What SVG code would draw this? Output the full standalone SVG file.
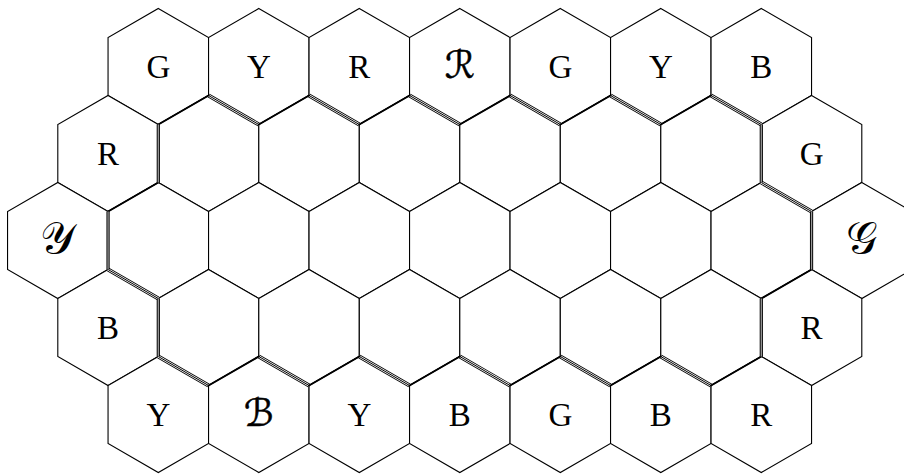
<svg xmlns="http://www.w3.org/2000/svg" xmlns:xlink="http://www.w3.org/1999/xlink" width="904" height="474" viewBox="0 0 904 474">
<style>
.hx{fill:#fff;stroke:#000;stroke-width:1.1;stroke-linejoin:miter}
.lb{font-family:"Liberation Serif","DejaVu Serif",serif;font-size:33px;text-anchor:middle;fill:#000}
.sc{font-family:"DejaVu Sans","DejaVu Serif",serif;font-size:38px;text-anchor:middle;fill:#000;stroke:#000;stroke-width:0.5}
.sm{font-family:"DejaVu Sans","DejaVu Serif",serif;font-size:44px;text-anchor:middle;fill:#000}
.t1{fill:none;stroke:#000;stroke-width:4;stroke-linecap:butt}
.t2{fill:none;stroke:#fff;stroke-width:2.4;stroke-linecap:butt}
.t3{fill:none;stroke:#000;stroke-width:1;stroke-linecap:butt}
.tk{fill:none;stroke:#000;stroke-width:2;stroke-linecap:round}
.v1{fill:none;stroke:#000;stroke-width:3.2;stroke-linecap:butt}
.v2{fill:none;stroke:#999;stroke-width:1.3;stroke-linecap:butt}
</style>
<defs>
<path id="h" d="M0,-58 L50.25,-29 L50.25,29 L0,58 L-50.25,29 L-50.25,-29 Z"/>
<path id="tri" d="M208.55,95.5 L258.8,124.5 M309.05,95.5 L359.3,124.5 M409.55,95.5 L459.8,124.5 M510.05,95.5 L560.3,124.5 M610.55,95.5 L660.8,124.5 M711.05,95.5 L761.3,124.5 M761.3,182.5 L811.55,211.5 M108.05,269.5 L158.3,298.5 M158.3,356.5 L208.55,385.5 M258.8,356.5 L309.05,385.5 M359.3,356.5 L409.55,385.5 M459.8,356.5 L510.05,385.5 M560.3,356.5 L610.55,385.5 M660.8,356.5 L711.05,385.5"/>
<path id="ver" d="M158.3,124.5 L158.3,182.5 M108.05,211.5 L108.05,269.5 M158.3,298.5 L158.3,356.5 M761.3,124.5 L761.3,182.5 M811.55,211.5 L811.55,269.5 M761.3,298.5 L761.3,356.5"/>
</defs>
<rect width="904" height="474" fill="#fff"/>
<g id="hexes">
<g id="r0c0"><use xlink:href="#h" href="#h" x="158.3" y="66.5" class="hx"/><text class="lb" x="158.3" y="78">G</text></g>
<g id="r0c1"><use xlink:href="#h" href="#h" x="258.8" y="66.5" class="hx"/><text class="lb" x="258.8" y="78">Y</text></g>
<g id="r0c2"><use xlink:href="#h" href="#h" x="359.3" y="66.5" class="hx"/><text class="lb" x="359.3" y="78">R</text></g>
<g id="r0c3"><use xlink:href="#h" href="#h" x="459.8" y="66.5" class="hx"/><text class="sc" x="459.8" y="78">ℛ</text></g>
<g id="r0c4"><use xlink:href="#h" href="#h" x="560.3" y="66.5" class="hx"/><text class="lb" x="560.3" y="78">G</text></g>
<g id="r0c5"><use xlink:href="#h" href="#h" x="660.8" y="66.5" class="hx"/><text class="lb" x="660.8" y="78">Y</text></g>
<g id="r0c6"><use xlink:href="#h" href="#h" x="761.3" y="66.5" class="hx"/><text class="lb" x="761.3" y="78">B</text></g>

<g id="r1c0"><use xlink:href="#h" href="#h" x="108.05" y="153.5" class="hx"/><text class="lb" x="108.05" y="165">R</text></g>
<g id="r1c1"><use xlink:href="#h" href="#h" x="208.55" y="153.5" class="hx"/></g>
<g id="r1c2"><use xlink:href="#h" href="#h" x="309.05" y="153.5" class="hx"/></g>
<g id="r1c3"><use xlink:href="#h" href="#h" x="409.55" y="153.5" class="hx"/></g>
<g id="r1c4"><use xlink:href="#h" href="#h" x="510.05" y="153.5" class="hx"/></g>
<g id="r1c5"><use xlink:href="#h" href="#h" x="610.55" y="153.5" class="hx"/></g>
<g id="r1c6"><use xlink:href="#h" href="#h" x="711.05" y="153.5" class="hx"/></g>
<g id="r1c7"><use xlink:href="#h" href="#h" x="811.55" y="153.5" class="hx"/><text class="lb" x="811.55" y="165">G</text></g>

<g id="r2c0"><use xlink:href="#h" href="#h" x="57.8" y="240.5" class="hx"/><text class="sm" x="57.8" y="253">𝒴</text></g>
<g id="r2c1"><use xlink:href="#h" href="#h" x="158.3" y="240.5" class="hx"/></g>
<g id="r2c2"><use xlink:href="#h" href="#h" x="258.8" y="240.5" class="hx"/></g>
<g id="r2c3"><use xlink:href="#h" href="#h" x="359.3" y="240.5" class="hx"/></g>
<g id="r2c4"><use xlink:href="#h" href="#h" x="459.8" y="240.5" class="hx"/></g>
<g id="r2c5"><use xlink:href="#h" href="#h" x="560.3" y="240.5" class="hx"/></g>
<g id="r2c6"><use xlink:href="#h" href="#h" x="660.8" y="240.5" class="hx"/></g>
<g id="r2c7"><use xlink:href="#h" href="#h" x="761.3" y="240.5" class="hx"/></g>
<g id="r2c8"><use xlink:href="#h" href="#h" x="861.8" y="240.5" class="hx"/><text class="sm" x="861.8" y="253">𝒢</text></g>

<g id="r3c0"><use xlink:href="#h" href="#h" x="108.05" y="327.5" class="hx"/><text class="lb" x="108.05" y="339">B</text></g>
<g id="r3c1"><use xlink:href="#h" href="#h" x="208.55" y="327.5" class="hx"/></g>
<g id="r3c2"><use xlink:href="#h" href="#h" x="309.05" y="327.5" class="hx"/></g>
<g id="r3c3"><use xlink:href="#h" href="#h" x="409.55" y="327.5" class="hx"/></g>
<g id="r3c4"><use xlink:href="#h" href="#h" x="510.05" y="327.5" class="hx"/></g>
<g id="r3c5"><use xlink:href="#h" href="#h" x="610.55" y="327.5" class="hx"/></g>
<g id="r3c6"><use xlink:href="#h" href="#h" x="711.05" y="327.5" class="hx"/></g>
<g id="r3c7"><use xlink:href="#h" href="#h" x="811.55" y="327.5" class="hx"/><text class="lb" x="811.55" y="339">R</text></g>

<g id="r4c0"><use xlink:href="#h" href="#h" x="158.3" y="414.5" class="hx"/><text class="lb" x="158.3" y="426">Y</text></g>
<g id="r4c1"><use xlink:href="#h" href="#h" x="258.8" y="414.5" class="hx"/><text class="sc" x="258.8" y="426">ℬ</text></g>
<g id="r4c2"><use xlink:href="#h" href="#h" x="359.3" y="414.5" class="hx"/><text class="lb" x="359.3" y="426">Y</text></g>
<g id="r4c3"><use xlink:href="#h" href="#h" x="459.8" y="414.5" class="hx"/><text class="lb" x="459.8" y="426">B</text></g>
<g id="r4c4"><use xlink:href="#h" href="#h" x="560.3" y="414.5" class="hx"/><text class="lb" x="560.3" y="426">G</text></g>
<g id="r4c5"><use xlink:href="#h" href="#h" x="660.8" y="414.5" class="hx"/><text class="lb" x="660.8" y="426">B</text></g>
<g id="r4c6"><use xlink:href="#h" href="#h" x="761.3" y="414.5" class="hx"/><text class="lb" x="761.3" y="426">R</text></g>
</g>
<g id="connectors">
<use xlink:href="#tri" href="#tri" class="t1"/>
<use xlink:href="#tri" href="#tri" class="t2"/>
<use xlink:href="#tri" href="#tri" class="t3"/>
<path d="M158.3,124.5 L208.55,95.5 M258.8,124.5 L309.05,95.5 M359.3,124.5 L409.55,95.5 M459.8,124.5 L510.05,95.5 M560.3,124.5 L610.55,95.5 M660.8,124.5 L711.05,95.5 M811.55,269.5 L761.3,298.5 M108.05,211.5 L158.3,182.5 M208.55,385.5 L258.8,356.5 M309.05,385.5 L359.3,356.5 M409.55,385.5 L459.8,356.5 M510.05,385.5 L560.3,356.5 M610.55,385.5 L660.8,356.5 M711.05,385.5 L761.3,356.5" class="tk"/>
<use xlink:href="#ver" href="#ver" class="v1"/>
<use xlink:href="#ver" href="#ver" class="v2"/>
</g>
</svg>
